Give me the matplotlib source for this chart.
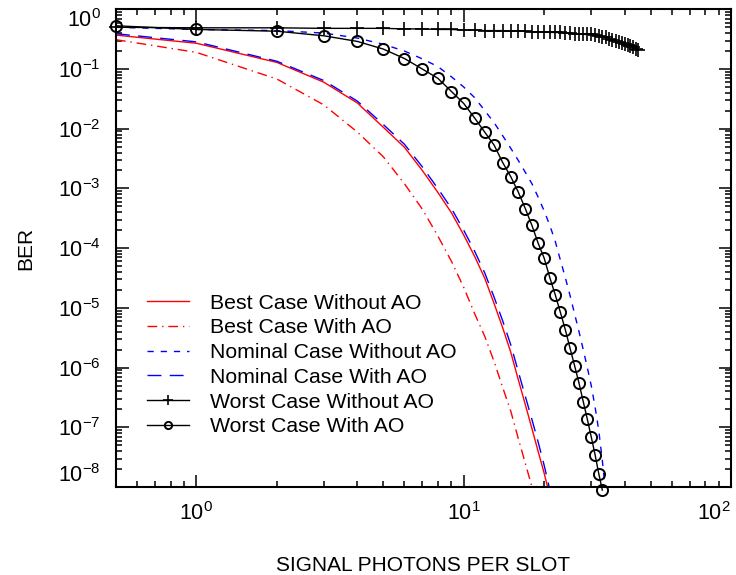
import matplotlib
matplotlib.use("Agg")
import matplotlib.pyplot as plt
import matplotlib.ticker as ticker

plt.rcParams['font.family'] = ['Liberation Sans', 'DejaVu Sans']
plt.rcParams['mathtext.fontset'] = 'custom'
plt.rcParams['mathtext.rm'] = 'Liberation Sans'

# photons per slot
x_best = [0.5, 1, 2, 3, 4, 5, 6, 7, 8, 9, 10, 11, 12, 13, 14, 15, 16, 17, 18, 19, 20, 21]
best_no_ao = [0.37, 0.27, 0.129, 0.060, 0.027, 0.0106, 4.9e-3, 2.0e-3, 8.6e-4, 3.9e-4, 1.66e-4,
              7.2e-5, 3.1e-5, 1.17e-5, 4.6e-6, 1.8e-6, 6.3e-7, 2.4e-7, 9.5e-8, 3.9e-8, 1.7e-8, 7e-9]
nominal_ao = [0.39, 0.285, 0.135, 0.064, 0.029, 0.0118, 5.5e-3, 2.3e-3, 1.0e-3, 4.6e-4, 2.0e-4,
              8.8e-5, 3.8e-5, 1.5e-5, 6.0e-6, 2.4e-6, 8.6e-7, 3.3e-7, 1.35e-7, 5.6e-8, 2.3e-8, 9e-9]

x_best_ao = [0.5, 1, 2, 3, 4, 5, 6, 7, 8, 9, 10, 11, 12, 13, 14, 15, 16, 17, 18, 19]
best_ao = [0.31, 0.19, 0.068, 0.025, 8.8e-3, 3.4e-3, 1.2e-3, 4.5e-4, 1.6e-4, 6.0e-5, 2.2e-5,
           7.9e-6, 3.3e-6, 1.25e-6, 4.6e-7, 1.86e-7, 6.5e-8, 2.5e-8, 1.0e-8, 3.2e-9]

x_nom = [0.5] + list(range(1, 35))
nominal_no_ao = [0.50, 0.46, 0.44, 0.40, 0.33, 0.26, 0.20, 0.148, 0.11, 0.074, 0.050,
                 0.033, 0.020, 0.0126, 7.6e-3, 4.7e-3, 2.95e-3, 1.86e-3, 1.2e-3, 7.1e-4, 4.2e-4,
                 2.4e-4, 1.3e-4, 6.3e-5, 3.2e-5, 1.6e-5, 7.9e-6, 4.0e-6, 2.0e-6, 1.0e-6, 5.0e-7,
                 2.2e-7, 8.9e-8, 2.8e-8, 7.9e-9]

x_worst = [0.5] + list(range(1, 46))
worst_no_ao = [0.50, 0.49, 0.49, 0.48, 0.48, 0.48, 0.47, 0.47, 0.46, 0.46, 0.45,
               0.45, 0.44, 0.44, 0.44, 0.43, 0.43, 0.43, 0.42, 0.42, 0.42,
               0.41, 0.41, 0.41, 0.40, 0.40, 0.39, 0.39, 0.38, 0.38, 0.38,
               0.37, 0.36, 0.35, 0.34, 0.32, 0.31, 0.30, 0.28, 0.27, 0.26,
               0.25, 0.24, 0.23, 0.22, 0.21]

x_worst_ao = [0.5] + list(range(1, 34))
worst_ao = [0.53, 0.46, 0.43, 0.36, 0.29, 0.216, 0.15, 0.10, 0.070, 0.042, 0.0265,
            0.015, 0.0087, 0.0053, 0.0027, 1.57e-3, 8.7e-4, 4.6e-4, 2.4e-4, 1.2e-4, 6.8e-5,
            3.2e-5, 1.66e-5, 8.4e-6, 4.3e-6, 2.1e-6, 1.07e-6, 5.5e-7, 2.7e-7, 1.37e-7, 6.9e-8,
            3.5e-8, 1.68e-8, 8.9e-9]

fig = plt.figure(figsize=(7.36, 5.75), dpi=100)
ax = fig.add_axes([0.1576, 0.153, 0.8356, 0.8308])

ax.plot(x_best, best_no_ao, color='red', lw=1.0, label='Best Case Without AO')
ax.plot(x_best_ao, best_ao, color='red', lw=1.0, dashes=(7, 3.5, 1, 3.5), label='Best Case With AO')
ax.plot(x_nom, nominal_no_ao, color='blue', lw=1.0, dashes=(4.5, 5), label='Nominal Case Without AO')
ax.plot(x_best, nominal_ao, color='blue', lw=1.0, dashes=(10, 6), label='Nominal Case With AO')
ax.plot(x_worst, worst_no_ao, color='black', lw=1.0, marker='+', ms=10, mew=1.2,
        clip_on=False, label='Worst Case Without AO')
ax.plot(x_worst_ao, worst_ao, color='black', lw=1.0, marker='o', ms=8, mfc='none', mew=1.4,
        clip_on=False, label='Worst Case With AO')

ax.set_xscale('log')
ax.set_yscale('log')
ax.set_xlim(0.5, 100)
ax.set_ylim(1e-8, 1)

ax.set_xticks([1, 10, 100])
ax.set_yticks([10.0 ** k for k in range(-8, 1)])
ax.yaxis.set_minor_locator(ticker.LogLocator(base=10, subs=range(2, 10), numticks=20))
ax.yaxis.set_minor_formatter(ticker.NullFormatter())
ax.xaxis.set_minor_locator(ticker.LogLocator(base=10, subs=range(2, 10), numticks=20))
ax.xaxis.set_minor_formatter(ticker.NullFormatter())

ax.tick_params(which='both', direction='in', top=True, right=True, width=1.1, labelsize=15.5)
ax.tick_params(which='major', length=9, pad=11)
ax.tick_params(which='minor', length=4.5)
for s in ax.spines.values():
    s.set_linewidth(1.5)

# end labels pulled inside the frame
yt = ax.yaxis.get_major_ticks()
yt[0].label1.set_va('bottom')
yt[-1].label1.set_va('top')
xt = ax.xaxis.get_major_ticks()
xt[-1].label1.set_ha('right')

ax.set_xlabel('SIGNAL PHOTONS PER SLOT', fontsize=15, labelpad=22)
ax.set_ylabel('BER', fontsize=15, labelpad=16)

ax.legend(loc='upper left', bbox_to_anchor=(0.05, 0.405), frameon=False, fontsize=15.3,
          handlelength=2.0, handletextpad=1.0, labelspacing=0.27, borderpad=0,
          borderaxespad=0, numpoints=1, markerscale=0.65)

fig.savefig('out.png', dpi=100)
